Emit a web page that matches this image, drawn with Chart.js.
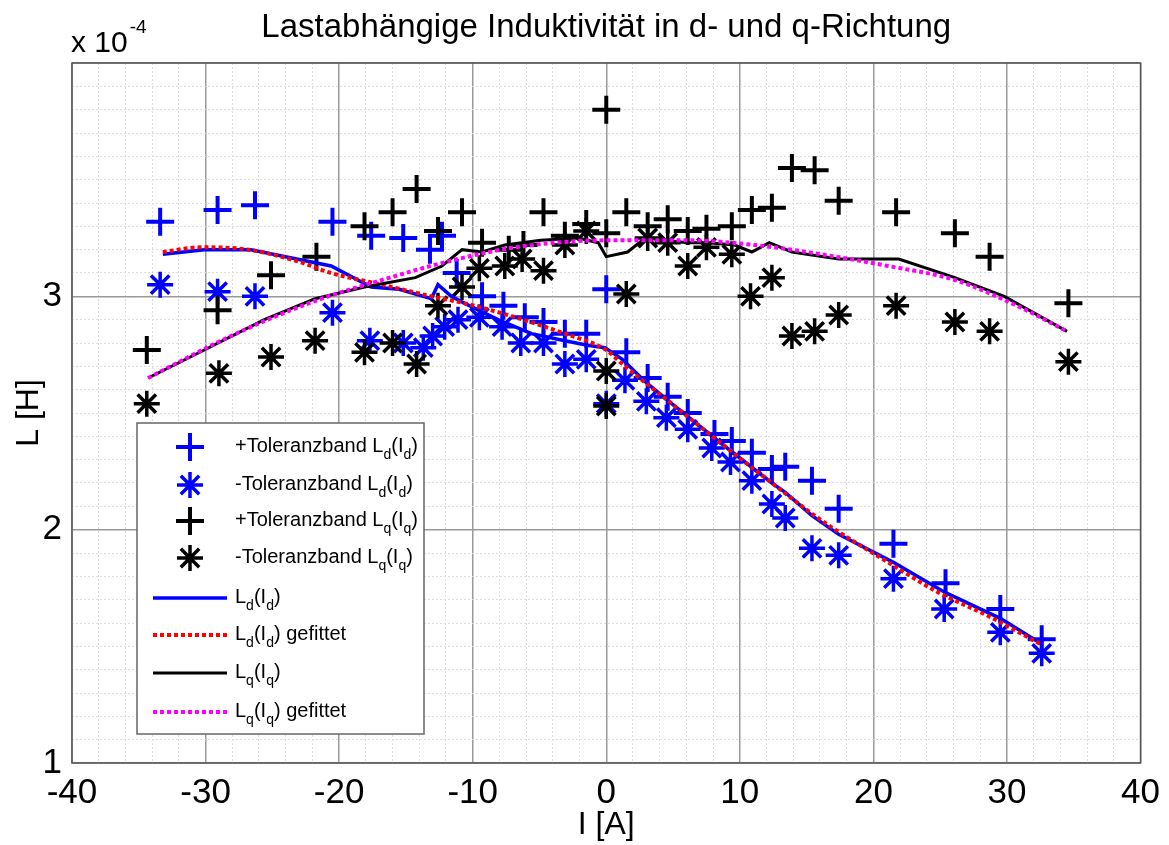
<!DOCTYPE html>
<html>
<head>
<meta charset="utf-8">
<title>Lastabhängige Induktivität</title>
<script src="https://cdn.jsdelivr.net/npm/chart.js@4.4.1/dist/chart.umd.min.js"></script>
<style>
  body { margin: 0; background: #fff; }
  #wrap { width: 1169px; height: 845px; }
</style>
</head>
<body>
<div id="wrap"><canvas id="inductanceChart" width="1169" height="845"></canvas></div>
<script>
// current in A, inductance in 1e-4 H
const ldPlusI = [-33.4, -29.1, -26.3, -20.5, -17.6, -15.2, -13.2, -12.3, -11.2, -9.3, -7.7, -6.1, -4.7, -3.1, -1.5, 0, 1.5, 3.1, 4.6, 6.1, 8.1, 9.4, 10.9, 12.4, 13.4, 15.4, 17.4, 21.5, 25.4, 29.5, 32.6];
const ldPlusL = [3.32, 3.37, 3.39, 3.32, 3.26, 3.25, 3.20, 3.26, 3.10, 3.00, 2.96, 2.91, 2.89, 2.84, 2.84, 3.03, 2.76, 2.65, 2.57, 2.50, 2.41, 2.38, 2.33, 2.26, 2.27, 2.21, 2.09, 1.94, 1.77, 1.66, 1.53];

const ldMinusI = [-33.4, -29.1, -26.3, -20.5, -17.7, -15.2, -13.7, -13.0, -12.1, -11.1, -9.5, -7.8, -6.4, -4.7, -3.1, -1.5, 0, 1.4, 3.0, 4.5, 6.1, 7.9, 9.3, 10.9, 12.4, 13.4, 15.4, 17.4, 21.5, 25.3, 29.5, 32.6];
const ldMinusL = [3.05, 3.02, 3.00, 2.93, 2.81, 2.80, 2.78, 2.83, 2.87, 2.90, 2.91, 2.87, 2.80, 2.80, 2.71, 2.73, 2.54, 2.64, 2.55, 2.48, 2.43, 2.35, 2.29, 2.21, 2.11, 2.05, 1.92, 1.89, 1.79, 1.66, 1.56, 1.47];

const lqPlusI = [-34.4, -29.1, -25.1, -21.7, -18.1, -16.0, -14.2, -12.6, -10.8, -9.3, -7.3, -6.2, -4.7, -3.1, -1.5, 0, 0, 1.5, 3.1, 4.6, 6.1, 7.5, 9.4, 10.9, 12.4, 13.9, 15.6, 17.4, 21.7, 26.1, 28.7, 34.6];
const lqPlusL = [2.77, 2.94, 3.09, 3.17, 3.30, 3.36, 3.46, 3.28, 3.36, 3.23, 3.20, 3.22, 3.36, 3.26, 3.31, 3.80, 3.27, 3.36, 3.30, 3.33, 3.28, 3.29, 3.30, 3.37, 3.38, 3.55, 3.54, 3.41, 3.36, 3.27, 3.17, 2.97];

const lqMinusI = [-34.4, -29.0, -25.1, -21.8, -18.1, -16.0, -14.2, -12.6, -10.8, -9.5, -7.6, -6.3, -4.7, -3.1, -1.5, 0, 0, 1.5, 3.1, 4.6, 6.1, 7.5, 9.4, 10.8, 12.4, 13.9, 15.6, 17.4, 21.7, 26.1, 28.7, 34.6];
const lqMinusL = [2.54, 2.67, 2.74, 2.81, 2.76, 2.80, 2.71, 2.96, 3.04, 3.12, 3.13, 3.16, 3.11, 3.22, 3.28, 2.68, 2.53, 3.01, 3.25, 3.23, 3.13, 3.21, 3.18, 3.00, 3.08, 2.83, 2.85, 2.92, 2.96, 2.89, 2.85, 2.72];

const ldLineI = [-33.2, -30.1, -26.6, -20.6, -17.6, -15.5, -13.1, -12.6, -11.6, -10.6, -8.1, -5.6, -3.1, -1.4, -0.1, 1.2, 3.0, 4.9, 8.6, 12.4, 13.4, 15.4, 17.4, 21.5, 25.4, 29.5, 32.6];
const ldLineL = [3.18, 3.20, 3.20, 3.13, 3.04, 3.03, 2.99, 3.05, 3.00, 2.97, 2.90, 2.84, 2.81, 2.79, 2.78, 2.73, 2.63, 2.54, 2.37, 2.20, 2.16, 2.06, 1.98, 1.86, 1.73, 1.62, 1.51];

const ldFitI = [-33.2, -30.3, -26.8, -23.1, -20.6, -16.8, -13.1, -10.6, -6.8, -3.1, 0, 1.2, 4.9, 8.6, 12.4, 16.1, 21.1, 24.9, 28.6, 32.5];
const ldFitL = [3.19, 3.21, 3.20, 3.15, 3.10, 3.05, 3.00, 2.97, 2.91, 2.84, 2.77, 2.71, 2.54, 2.37, 2.20, 2.04, 1.86, 1.73, 1.63, 1.51];

const lqLineI = [-34.3, -30.1, -25.6, -21.8, -18.1, -14.3, -12.3, -10.8, -9.3, -7.6, -4.9, -2.1, -0.6, 0, 1.6, 2.9, 4.4, 6.1, 7.6, 9.6, 10.9, 12.2, 13.9, 17.4, 21.9, 26.1, 29.8, 34.5];
const lqLineL = [2.65, 2.77, 2.90, 2.99, 3.04, 3.08, 3.13, 3.20, 3.19, 3.22, 3.24, 3.25, 3.23, 3.17, 3.19, 3.25, 3.24, 3.23, 3.23, 3.22, 3.19, 3.23, 3.19, 3.16, 3.16, 3.08, 3.00, 2.85];

const lqFitI = [-34.3, -28.1, -21.8, -16.8, -11.8, -6.8, 0, 6.1, 11.1, 16.1, 21.1, 26.1, 31.1, 34.5];
const lqFitL = [2.65, 2.83, 2.98, 3.07, 3.15, 3.21, 3.24, 3.24, 3.22, 3.18, 3.13, 3.07, 2.95, 2.85];

const xTickLabels = ["-40", "-30", "-20", "-10", "0", "10", "20", "30", "40"];
const yTickLabels = ["1", "2", "3"];

const chartTitle = "Lastabhängige Induktivität in d- und q-Richtung";

// legend text, [text, subscript?]
const legendLabels = [
  [["+Toleranzband L", false], ["d", true], ["(I", false], ["d", true], [")", false]],
  [["-Toleranzband L", false], ["d", true], ["(I", false], ["d", true], [")", false]],
  [["+Toleranzband L", false], ["q", true], ["(I", false], ["q", true], [")", false]],
  [["-Toleranzband L", false], ["q", true], ["(I", false], ["q", true], [")", false]],
  [["L", false], ["d", true], ["(I", false], ["d", true], [")", false]],
  [["L", false], ["d", true], ["(I", false], ["d", true], [") gefittet", false]],
  [["L", false], ["q", true], ["(I", false], ["q", true], [")", false]],
  [["L", false], ["q", true], ["(I", false], ["q", true], [") gefittet", false]]
];

const FONT = '"Liberation Sans", Arial, Helvetica, sans-serif';

const toPoints = (xs, ys) => xs.map((x, i) => ({ x: x, y: ys[i] }));
const isWhole = (v, step) => Math.abs(v / step - Math.round(v / step)) < 1e-6;

function markerSet(label, xs, ys, style, color, radius, width, order) {
  return {
    label: label,
    data: toPoints(xs, ys),
    showLine: false,
    pointStyle: style,
    pointRadius: radius,
    pointBorderWidth: width,
    borderColor: color,
    backgroundColor: color,
    order: order
  };
}

function lineSet(label, xs, ys, color, width, dash, smooth, order) {
  return {
    label: label,
    data: toPoints(xs, ys),
    showLine: true,
    pointRadius: 0,
    borderColor: color,
    backgroundColor: color,
    borderWidth: width,
    borderDash: dash,
    borderCapStyle: "butt",
    cubicInterpolationMode: smooth ? "monotone" : "default",
    tension: 0,
    fill: false,
    order: order
  };
}

const datasets = [
  markerSet("+Toleranzband Ld(Id)", ldPlusI, ldPlusL, "cross", "#0000ff", 14, 4, 8),
  markerSet("-Toleranzband Ld(Id)", ldMinusI, ldMinusL, "star", "#0000ff", 13, 3.5, 7),
  markerSet("+Toleranzband Lq(Iq)", lqPlusI, lqPlusL, "cross", "#000000", 14, 4, 6),
  markerSet("-Toleranzband Lq(Iq)", lqMinusI, lqMinusL, "star", "#000000", 13, 3.5, 5),
  lineSet("Ld(Id)", ldLineI, ldLineL, "#0000ff", 3.5, [], false, 4),
  lineSet("Ld(Id) gefittet", ldFitI, ldFitL, "#ff0000", 4, [4, 3], true, 3),
  lineSet("Lq(Iq)", lqLineI, lqLineL, "#000000", 3, [], false, 2),
  lineSet("Lq(Iq) gefittet", lqFitI, lqFitL, "#ff00ff", 4, [4, 3], true, 1)
];

function drawRuns(ctx, runs, x, y) {
  runs.forEach(([text, sub]) => {
    ctx.font = (sub ? "14px " : "20px ") + FONT;
    ctx.fillText(text, x, sub ? y + 7 : y);
    x += ctx.measureText(text).width;
  });
}

const decorations = {
  id: "decorations",
  afterDraw(chart) {
    const { ctx, chartArea: a } = chart;
    ctx.save();

    // axes box
    ctx.strokeStyle = "#555";
    ctx.lineWidth = 1.5;
    ctx.setLineDash([]);
    ctx.strokeRect(a.left, a.top, a.right - a.left, a.bottom - a.top);

    // title, centred over the plot area
    ctx.fillStyle = "#000";
    ctx.textBaseline = "alphabetic";
    ctx.textAlign = "center";
    ctx.font = "33px " + FONT;
    ctx.fillText(chartTitle, (a.left + a.right) / 2, 37);

    // exponent of the y axis
    ctx.textAlign = "left";
    ctx.font = "30px " + FONT;
    ctx.fillText("x 10", 71, 52);
    const w = ctx.measureText("x 10").width;
    ctx.font = "19px " + FONT;
    ctx.fillText("-4", 71 + w + 2, 33);

    // legend
    const box = { x: 137, y: 423, w: 287, h: 311 };
    ctx.fillStyle = "#fff";
    ctx.fillRect(box.x, box.y, box.w, box.h);
    ctx.strokeStyle = "#666";
    ctx.lineWidth = 1.5;
    ctx.strokeRect(box.x, box.y, box.w, box.h);

    const rowY = [447, 485, 521, 558, 598, 635, 673, 712];
    chart.data.datasets.forEach((ds, i) => {
      const y = rowY[i];
      ctx.strokeStyle = ds.borderColor;
      ctx.fillStyle = ds.borderColor;
      if (ds.showLine) {
        ctx.lineWidth = ds.borderWidth;
        ctx.setLineDash(ds.borderDash);
        ctx.beginPath();
        ctx.moveTo(153, y);
        ctx.lineTo(227, y);
        ctx.stroke();
        ctx.setLineDash([]);
      } else {
        ctx.lineWidth = ds.pointBorderWidth;
        Chart.helpers.drawPoint(ctx, {
          pointStyle: ds.pointStyle,
          radius: ds.pointRadius,
          borderWidth: ds.pointBorderWidth,
          rotation: 0
        }, 190, y);
      }
      ctx.fillStyle = "#000";
      drawRuns(ctx, legendLabels[i], 235, y + 5);
    });

    ctx.restore();
  }
};

const config = {
  type: "scatter",
  data: { datasets: datasets },
  options: {
    responsive: false,
    animation: false,
    events: [],
    layout: { padding: { top: 63, right: 27, left: 0, bottom: 0 } },
    plugins: {
      legend: { display: false },
      tooltip: { enabled: false },
      title: { display: false }
    },
    scales: {
      x: {
        type: "linear",
        min: -40,
        max: 40,
        afterFit: (scale) => { scale.height = 82; },
        ticks: {
          stepSize: 2,
          autoSkip: false,
          maxRotation: 0,
          padding: 9,
          color: "#000",
          font: { family: FONT, size: 35 },
          callback: (v) => isWhole(v, 10) ? xTickLabels[Math.round((v + 40) / 10)] : ""
        },
        grid: {
          drawTicks: false,
          color: (c) => c.tick && isWhole(c.tick.value, 10) ? "#9a9a9a" : "#dcdcdc",
          lineWidth: (c) => c.tick && isWhole(c.tick.value, 10) ? 1.5 : 1
        },
        border: {
          display: false,
          dash: (c) => c.tick && !isWhole(c.tick.value, 10) ? [2, 2] : []
        },
        title: {
          display: true,
          text: "I [A]",
          color: "#000",
          font: { family: FONT, size: 32 },
          padding: { top: 0, bottom: 1 }
        }
      },
      y: {
        type: "linear",
        min: 1,
        max: 4,
        afterFit: (scale) => { scale.width = 72; },
        ticks: {
          stepSize: 0.1,
          autoSkip: false,
          padding: 10,
          color: "#000",
          font: { family: FONT, size: 35 },
          callback: (v) => isWhole(v, 1) && v < 3.5 ? yTickLabels[Math.round(v) - 1] : ""
        },
        grid: {
          drawTicks: false,
          color: (c) => c.tick && isWhole(c.tick.value, 1) ? "#9a9a9a" : "#dcdcdc",
          lineWidth: (c) => c.tick && isWhole(c.tick.value, 1) ? 1.5 : 1
        },
        border: {
          display: false,
          dash: (c) => c.tick && !isWhole(c.tick.value, 1) ? [2, 2] : []
        },
        title: {
          display: true,
          text: "L [H]",
          color: "#000",
          font: { family: FONT, size: 32 },
          padding: { top: 10, bottom: 0 }
        }
      }
    }
  },
  plugins: [decorations]
};

new Chart(document.getElementById("inductanceChart"), config);
</script>
</body>
</html>
